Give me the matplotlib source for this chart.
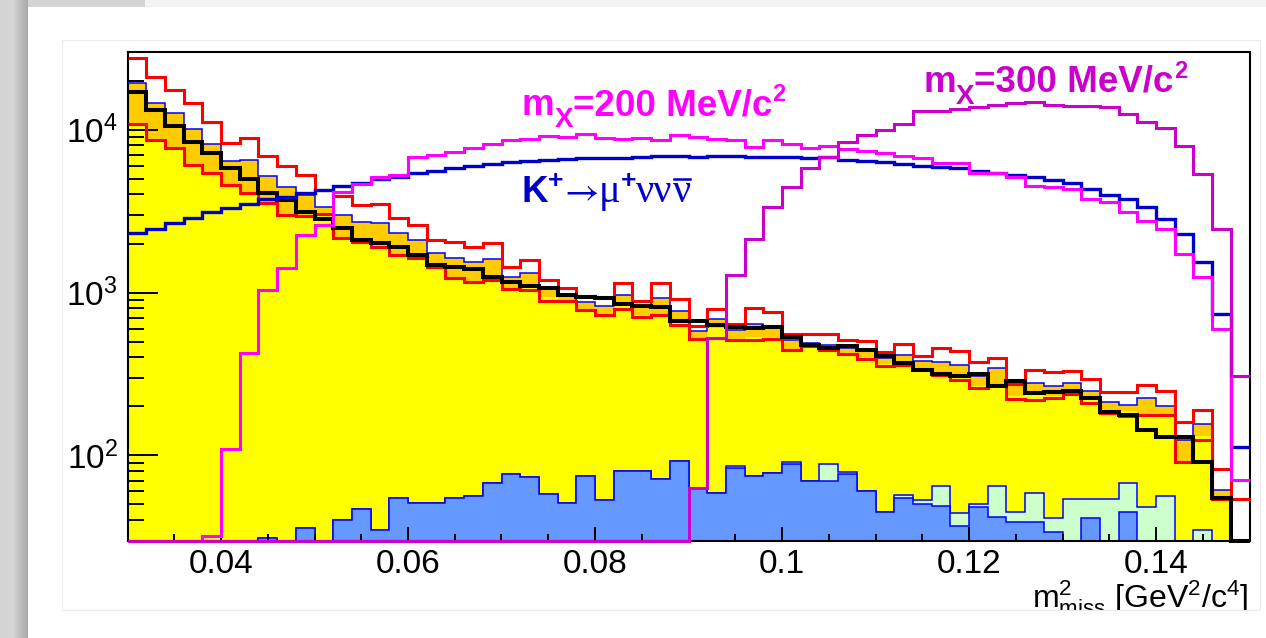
import numpy as np
import matplotlib
matplotlib.use('Agg')
import matplotlib.pyplot as plt
from matplotlib.patches import Rectangle
from matplotlib.lines import Line2D
from matplotlib.ticker import MultipleLocator, FuncFormatter, LogLocator, NullFormatter

plt.rcParams['font.family'] = ['Liberation Sans', 'DejaVu Sans']
plt.rcParams['mathtext.fontset'] = 'custom'
plt.rcParams['mathtext.rm'] = 'Liberation Sans'
plt.rcParams['mathtext.it'] = 'Liberation Sans:italic'
plt.rcParams['mathtext.bf'] = 'Liberation Sans:bold'

W, H = 1266, 638
YMIN, YMAX = 30, 3e4

# m2miss binning: 60 bins of 0.002 GeV^2/c^4 between 0.03 and 0.15
edges = np.round(0.03 + 0.002 * np.arange(61), 4)

# background band edges and totals (events / bin)
err_up = [27700, 21000, 17600, 14500, 11100, 8300, 8900, 6870, 5960, 5260,
          4250, 3900, 3440, 3490, 2870, 2600, 2100, 2040, 1900, 2010,
          1430, 1585, 1195, 1070, 955, 935, 1140, 885, 1145, 910,
          625, 795, 645, 805, 760, 558, 558, 558, 513, 502,
          430, 483, 406, 459, 435, 376, 398, 276, 333, 323,
          328, 296, 244, 244, 272, 248, 160, 191, 82, 54]
mc_sum = [19400, 14600, 12600, 10100, 8130, 6400, 6490, 5190, 4450, 3960,
          3360, 3000, 2720, 2690, 2320, 2100, 1745, 1630, 1540, 1610,
          1250, 1325, 1080, 968, 877, 821, 960, 821, 924, 765,
          582, 685, 590, 643, 625, 513, 492, 478, 459, 443,
          395, 416, 382, 376, 361, 309, 346, 274, 280, 266,
          280, 250, 212, 205, 226, 202, 125, 155, 61, 0]
data = [17000, 13300, 10600, 8400, 7170, 5800, 4970, 4090, 3690, 3135,
        2830, 2490, 2100, 2010, 1910, 1700, 1480, 1440, 1400, 1250,
        1167, 1098, 1068, 968, 945, 928, 853, 830, 817, 670,
        670, 634, 616, 607, 618, 535, 479, 459, 467, 443,
        407, 371, 333, 318, 306, 318, 268, 285, 243, 244,
        248, 226, 184, 178, 144, 129, 130, 91, 55, 0]
err_dn = [10800, 8600, 7690, 6050, 5430, 4570, 4070, 3550, 2990, 2960,
          3030, 2160, 2050, 1900, 1700, 1630, 1440, 1230, 1167, 1195,
          1053, 1038, 893, 881, 783, 730, 794, 709, 730, 634,
          520, 527, 513, 513, 520, 446, 468, 446, 421, 392,
          355, 360, 336, 313, 292, 261, 272, 223, 220, 226,
          237, 211, 183, 174, 178, 178, 91, 125, 54, 54]
kmu2 = [10800, 8600, 7690, 6050, 5430, 4570, 4070, 3550, 2990, 2960,
        2990, 2190, 2100, 1910, 1700, 1630, 1440, 1230, 1167, 1195,
        1053, 1098, 945, 881, 783, 730, 829, 730, 730, 670,
        520, 607, 513, 533, 533, 446, 472, 446, 428, 404,
        363, 371, 336, 313, 306, 266, 272, 231, 237, 231,
        244, 220, 191, 186, 178, 178, 91, 131, 55, 0]
bkg_blue = [0, 0, 0, 0, 0, 0, 0, 31, 0, 36,
            0, 40, 47, 35, 55, 51, 51, 55, 56, 68,
            77, 74, 58, 51, 75, 53, 80, 80, 72, 92,
            63, 59, 84, 75, 78, 89, 70, 70, 77, 60,
            45, 55, 50, 49, 37, 48, 42, 39, 39, 34,
            0, 41, 0, 45, 0, 0, 0, 0, 0, 0]
bkg_green = [0, 0, 0, 0, 0, 0, 0, 31, 0, 36,
             0, 40, 47, 35, 55, 51, 51, 55, 56, 68,
             77, 74, 58, 51, 75, 53, 80, 80, 72, 92,
             63, 59, 86, 75, 78, 91, 70, 89, 79, 60,
             45, 57, 53, 65, 44, 50, 65, 45, 59, 41,
             54, 54, 54, 68, 48, 56, 0, 35, 0, 0]

# signal shapes
sig_kmununu = [2310, 2440, 2660, 2860, 3130, 3290, 3520, 3730, 3870, 4090,
               4290, 4520, 4720, 5000, 5140, 5430, 5560, 5780, 5970, 6190,
               6340, 6430, 6550, 6650, 6740, 6700, 6740, 6800, 6870, 6850,
               6800, 6870, 6850, 6800, 6800, 6770, 6740, 6800, 6550, 6430,
               6340, 6190, 5990, 5910, 5780, 5580, 5430, 5260, 5090, 4900,
               4680, 4350, 3960, 3730, 3340, 2820, 2290, 1530, 740, 112]
sig_mx200 = [0, 0, 0, 0, 32, 110, 425, 1030, 1410, 2260,
             2600, 4150, 4620, 5090, 5250, 6800, 6960, 7300, 7770, 8210,
             8600, 8720, 9100, 9000, 9360, 8880, 8720, 8880, 8690, 9230,
             9000, 8810, 8600, 7870, 8600, 8210, 7700, 7950, 7660, 7400,
             7200, 6870, 6740, 6250, 6250, 5430, 5430, 5140, 4500, 4420,
             4350, 3730, 3600, 3140, 2760, 2440, 1720, 1250, 600, 71]
sig_mx300 = [0, 0, 0, 0, 0, 0, 0, 0, 0, 0,
             0, 0, 0, 0, 0, 0, 0, 0, 0, 0,
             0, 0, 0, 0, 0, 0, 0, 0, 0, 0,
             63, 525, 1280, 2120, 3360, 4450, 5780, 6750, 8400, 9230,
             10000, 10800, 12970, 13100, 13400, 13740, 14270, 14530, 14740, 14210,
             14070, 13940, 13740, 12500, 11130, 10290, 7910, 5330, 2440, 306]


def fl(v):
    # floor for filled areas (below the visible range)
    return np.clip(np.asarray(v, float), 1, None)


def ln(v):
    # empty bins are drawn along the bottom of the frame
    return np.clip(np.asarray(v, float), YMIN, None)


fig = plt.figure(figsize=(W / 100, H / 100), dpi=100, facecolor='white')
ax = fig.add_axes([127.5 / W, 1 - 540.5 / H, 1122 / W, 488.5 / H])
ax.set_yscale('log')
ax.set_xlim(0.03, 0.15)
ax.set_ylim(YMIN, YMAX)

# stacked background
ax.stairs(fl(kmu2), edges, baseline=1, fill=True, color='#ffff00', lw=0, zorder=1.0)
ax.stairs(fl(mc_sum), edges, baseline=fl(kmu2), fill=True, color='#ffcc00', lw=0, zorder=1.05)
ax.stairs(fl(bkg_green), edges, baseline=1, fill=True, color='#ccffcc', lw=0, zorder=1.1)
ax.stairs(ln(bkg_green), edges, baseline=None, color='#0000ff', lw=1.1, zorder=1.15, clip_on=False)
ax.stairs(fl(bkg_blue), edges, baseline=1, fill=True, color='#6699ff', lw=0, zorder=1.2)
ax.stairs(ln(bkg_blue), edges, baseline=None, color='#0000ff', lw=1.1, zorder=1.25, clip_on=False)

ax.stairs(ln(mc_sum), edges, baseline=None, color='#0000ff', lw=1.1, zorder=3.0, clip_on=False)
ax.stairs(ln(err_dn), edges, baseline=None, color='#ff0000', lw=2.2, zorder=3.1, clip_on=False)
ax.stairs(ln(err_up), edges, baseline=None, color='#ff0000', lw=2.2, zorder=3.1, clip_on=False)
ax.stairs(ln(data), edges, baseline=None, color='black', lw=2.9, zorder=3.2, clip_on=False)

# signals
ax.stairs(ln(sig_kmununu), edges, baseline=None, color='#0000cc', lw=2.4, zorder=3.3, clip_on=False)
ax.stairs(ln(sig_mx200), edges, baseline=None, color='#ff00ff', lw=2.2, zorder=3.4, clip_on=False)
ax.stairs(ln(sig_mx300), edges, baseline=None, color='#cc00cc', lw=2.2, zorder=3.5, clip_on=False)

for s in ax.spines.values():
    s.set_linewidth(1.5)
    s.set_color('black')

ax.xaxis.set_major_locator(MultipleLocator(0.02))
ax.xaxis.set_minor_locator(MultipleLocator(0.005))
ax.xaxis.set_major_formatter(FuncFormatter(lambda v, p: '%g' % round(v, 4)))
ax.yaxis.set_major_locator(LogLocator(base=10))
ax.yaxis.set_minor_locator(LogLocator(base=10, subs=np.arange(2, 10)))
ax.yaxis.set_major_formatter(FuncFormatter(lambda v, p: r'$\mathregular{10^{%d}}$' % round(np.log10(v))))
ax.yaxis.set_minor_formatter(NullFormatter())
ax.tick_params(which='both', direction='in', top=False, right=False, width=1.4, colors='black')
ax.tick_params(axis='x', which='major', length=10, labelsize=24, pad=6)
ax.tick_params(axis='x', which='minor', length=5)
ax.tick_params(axis='y', which='major', length=21.5, labelsize=24, pad=7)
ax.tick_params(axis='y', which='minor', length=11.5)

fig.text(1248 / W, 1 - 607 / H,
         r'$\mathregular{m^{2}_{miss}}$ [GeV$^{\mathregular{2}}$/c$^{\mathregular{4}}$]',
         ha='right', va='baseline', fontsize=23)

renderer = fig.canvas.get_renderer()


def rich(x, y, parts):
    out = []
    for s, size, dy, kw in parts:
        t = fig.text(x / W, 1 - (y + dy) / H, s, fontsize=size, ha='left', va='baseline', **kw)
        x += t.get_window_extent(renderer=renderer).width
        out.append(t)
    return out


bold200 = dict(weight='bold', color='#ff00ff')
rich(521.7, 115, [('m', 26.5, 0, bold200), ('X', 20, 12, bold200),
                  ('=200 MeV/c', 26.5, 0, bold200), ('2', 17, -14, bold200)])
bold300 = dict(weight='bold', color='#cc00cc')
rich(923.3, 91.7, [('m', 26.5, 0, bold300), ('X', 20, 12, bold300),
                   ('=300 MeV/c', 26.5, 0, bold300), ('2', 17, -14, bold300)])

kb = dict(weight='bold', color='#0000cc')
ks = dict(family=['Liberation Serif', 'DejaVu Serif'], color='#0000cc')
ka = dict(math_fontfamily='stix', color='#0000cc')
kt = rich(521.7, 201.7, [('K', 26.5, 0, kb), ('+', 19, -14, kb),
                         (r'$\!\rightarrow$', 27, 0, ka), ('\u03bc', 29, 0, ks),
                         ('+', 19, -14, kb),
                         ('\u03bd\u03bd', 29, 0, ks), ('\u03bd', 29, 0, ks)])
bb = kt[-1].get_window_extent(renderer=renderer)
fig.add_artist(Line2D([(bb.x0 + 2) / W, (bb.x1 - 1) / W], [1 - 179 / H] * 2,
                      transform=fig.transFigure, color='#0000cc', lw=1.8))

# page around the canvas
fig.add_artist(Rectangle((28 / W, 0), 1, 28 / H, transform=fig.transFigure,
                         facecolor='white', edgecolor='none', zorder=50))
fig.add_artist(Rectangle((62 / W, 1 - 609.5 / H), (1260 - 62) / W, (609.5 - 40) / H,
                         transform=fig.transFigure, facecolor='none',
                         edgecolor='#ececec', lw=0.8, zorder=51))
fig.add_artist(Rectangle((0, 1 - 7 / H), 1, 7 / H, transform=fig.transFigure,
                         facecolor='#f4f4f4', edgecolor='none', zorder=52))
fig.add_artist(Rectangle((0, 1 - 7 / H), 145 / W, 7 / H, transform=fig.transFigure,
                         facecolor='#d4d4d4', edgecolor='none', zorder=52))
for i in range(28):
    g = 0.83 if i < 13 else 0.83 - 0.012 * (i - 13)
    fig.add_artist(Rectangle((i / W, 0), 1 / W, 1, transform=fig.transFigure,
                             facecolor=(g, g, g), edgecolor='none', zorder=53))

fig.savefig('out.png', dpi=100, facecolor='white')
